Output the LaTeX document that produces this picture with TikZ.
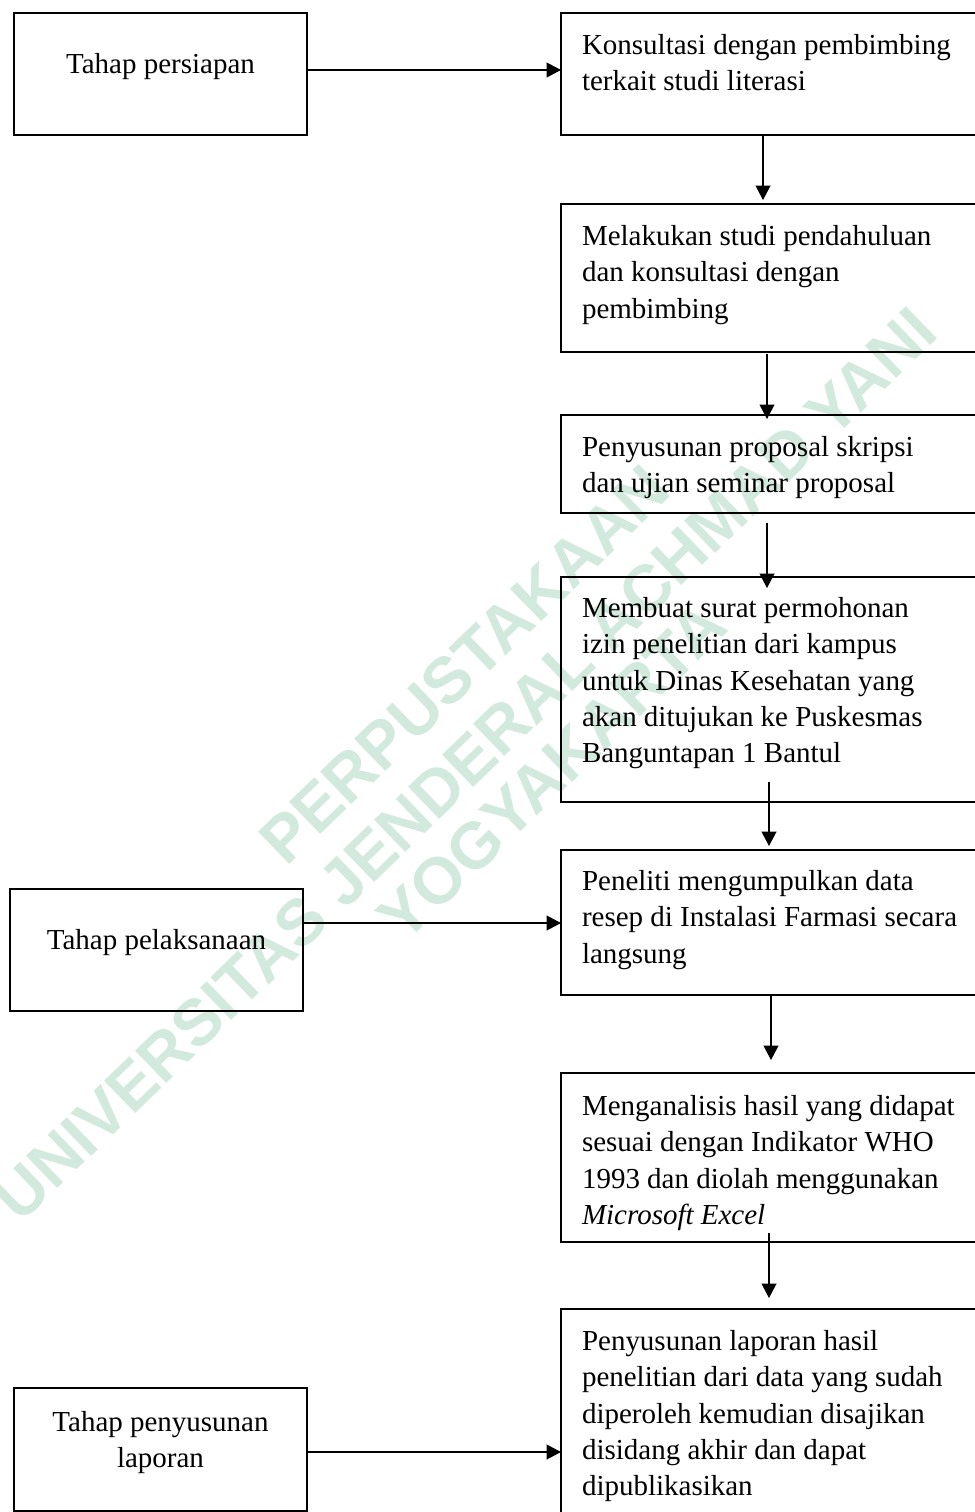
\documentclass[tikz,border=0pt]{standalone}
\usepackage{fontspec}
\setmainfont{Liberation Serif}
\newfontfamily\wmfont{Liberation Sans}
\usetikzlibrary{arrows.meta,calc}
\newlength\pxu \setlength\pxu{0.414pt}
\definecolor{wmgreen}{RGB}{210,234,221}
\newcommand\bxc[4]{\parbox[c][#1\pxu][t]{#2\pxu}{\vspace*{#3\pxu}#4}}
\begin{document}
\begin{tikzpicture}[x=0.414pt,y=-0.414pt,
  box/.style={draw, line width=1.1pt, inner ysep=0pt, outer sep=0pt, anchor=north west,
              font=\fontsize{12pt}{15.03pt}\selectfont},
  rbox/.style={box, inner xsep=8.7pt},
  lbox/.style={box, inner xsep=2.07pt},
  arr/.style={line width=0.5pt, -{Triangle[length=6pt,width=6.2pt]}},
  wm/.style={text=wmgreen, font=\wmfont\bfseries\fontsize{27pt}{30pt}\selectfont,
             rotate=44, anchor=base west, inner sep=0pt}]
\useasboundingbox (0,0) rectangle (975,1512);
\begin{scope}
\clip (0,0) rectangle (975,1512);
% watermark
\node[wm] (wm1) at (286,868) {PERPUSTAKAAN};
\node[wm] (wm2) at (20,1225) {UNIVERSITAS JENDERAL ACHMAD YANI};
\node[wm] (wm3) at (404,945) {YOGYAKARTA};
% right column
\node[rbox] (b1) at (561,13) {\bxc{122}{400}{16}{\raggedright\strut Konsultasi dengan pembimbing\\terkait studi literasi}};
\node[rbox] (b2) at (561,204) {\bxc{148}{400}{16}{\raggedright\strut Melakukan studi pendahuluan\\dan konsultasi dengan\\pembimbing}};
\node[rbox] (b3) at (561,415) {\bxc{98}{400}{16}{\raggedright\strut Penyusunan proposal skripsi\\dan ujian seminar proposal}};
\node[rbox] (b4) at (561,577) {\bxc{225}{400}{15}{\raggedright\strut Membuat surat permohonan\\izin penelitian dari kampus\\untuk Dinas Kesehatan yang\\akan ditujukan ke Puskesmas\\Banguntapan 1 Bantul}};
\node[rbox] (b5) at (561,850) {\bxc{145}{400}{15}{\raggedright\strut Peneliti mengumpulkan data\\resep di Instalasi Farmasi secara\\langsung}};
\node[rbox] (b6) at (561,1073) {\bxc{169}{400}{17}{\raggedright\strut Menganalisis hasil yang didapat\\sesuai dengan Indikator WHO\\1993 dan diolah menggunakan\\\textit{Microsoft Excel}}};
\node[rbox] (b7) at (561,1309) {\bxc{250}{400}{16}{\raggedright\strut Penyusunan laporan hasil\\penelitian dari data yang sudah\\diperoleh kemudian disajikan\\disidang akhir dan dapat\\dipublikasikan}};
% left column
\node[lbox] (l1) at (14,13) {\bxc{122}{283}{35}{\centering\strut Tahap persiapan}};
\node[lbox] (l2) at (10,889) {\bxc{122}{283}{34.6}{\centering\strut Tahap pelaksanaan}};
\node[lbox] (l3) at (14,1388) {\bxc{123}{283}{18}{\centering\strut Tahap penyusunan\\laporan}};
% horizontal arrows
\draw[arr] (l1.east |- 0,70) -- (b1.west |- 0,70);
\draw[arr] (l2.east |- 0,923) -- (b5.west |- 0,923);
\draw[arr] (l3.east |- 0,1452) -- (b7.west |- 0,1452);
% vertical arrows
\draw[arr] (b1.south -| 763,0) -- ($(b2.north -| 763,0)+(0,-4)$);
\draw[arr] ($(b2.south -| 767,0)+(0,2)$) -- ($(b3.north -| 767,0)+(0,4)$);
\draw[arr] ($(b3.south -| 767,0)+(0,10)$) -- ($(b4.north -| 767,0)+(0,11)$);
\draw[arr] ($(b4.south -| 769,0)+(0,-20)$) -- ($(b5.north -| 769,0)+(0,-4)$);
\draw[arr] (b5.south -| 771,0) -- ($(b6.north -| 771,0)+(0,-13)$);
\draw[arr] ($(b6.south -| 769,0)+(0,-9)$) -- ($(b7.north -| 769,0)+(0,-11)$);
\end{scope}
\end{tikzpicture}
\end{document}
